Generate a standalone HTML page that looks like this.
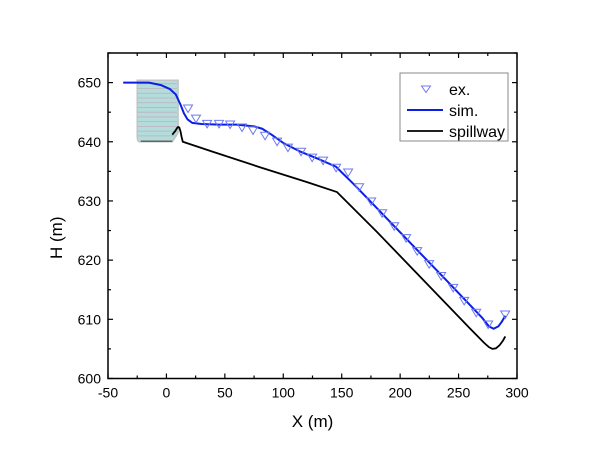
<!DOCTYPE html>
<html><head><meta charset="utf-8"><style>
html,body{margin:0;padding:0;background:#fff;}
svg{display:block;font-family:"Liberation Sans",Arial,sans-serif;}
</style></head><body>
<svg id="chart" width="600" height="454"></svg>
<script>
const xTicks=[-50,0,50,100,150,200,250,300];
const yTicks=[600,610,620,630,640,650];
const expX=[18.5,25.3,34.8,45,54.5,64.7,74.1,84.4,94.7,104,115.2,124.7,134.1,145.2,155.5,164.9,175.2,184.6,194.9,205.1,214.6,224.8,235.1,245.4,254.8,265.1,275.3,289.9];
const expY=[645.7,644,643.1,643.1,643,642.5,642,641.1,640.1,639.1,638.4,637.4,636.9,635.7,634.9,632.4,630,628,625.8,623.8,621.6,619.4,617.4,615.4,613.2,611.2,609.2,610.9];
const simX=[-37,-15,-5,3,8,12,15,18,22,30,45,60,75,82,90,100,115,130,145,160,200,240,270,276,280,284,287,290];
const simY=[650,650,649.6,648.9,648,646.3,644.8,643.8,643.2,643,642.9,642.9,642.6,642.2,641.2,639.8,638.3,637.1,635.8,632.9,624.7,616.5,610.3,608.8,608.4,608.8,609.6,610.6];
const spX=[5,7.5,9,10,11,12,13,14,40,80,120,146,180,220,260,272,276,279,282,285,288,290];
const spY=[641.2,641.8,642.3,642.5,642.4,641.8,640.8,640,638.3,635.7,633.2,631.5,624.8,616.6,608.4,606,605.3,605,605.1,605.6,606.4,607.1];
const X0=108,X1=517,Y0=378.5,Y1=53;
const xs=v=>X0+(v+50)/350*(X1-X0);
const ys=v=>Y0-(v-600)/55*(Y0-Y1);
const svg=document.getElementById('chart');
const NS='http://www.w3.org/2000/svg';
function mk(tag,attrs,parent){const e=document.createElementNS(NS,tag);for(const k in attrs)e.setAttribute(k,attrs[k]);(parent||svg).appendChild(e);return e;}
const gate=mk('g',{});


mk('path',{d:`M${xs(-25)},${ys(650.4)} H${xs(10)} V${ys(641.5)} L${xs(5)},${ys(640)} H${xs(-23)} Q${xs(-25)},${ys(640)} ${xs(-25)},${ys(641)} Z`,fill:'#b3dcdb',stroke:'#c4c4c4','stroke-width':1.5},gate);
for(let v=641;v<=650;v+=0.8){mk('line',{x1:xs(-25),x2:xs(9),y1:ys(v),y2:ys(v),stroke:'#c0b0bc','stroke-width':0.8},gate);}
mk('line',{x1:xs(-22),x2:xs(5),y1:ys(640.1),y2:ys(640.1),stroke:'#444','stroke-width':1.2},gate);
const frame=mk('rect',{x:X0,y:Y1,width:X1-X0,height:Y0-Y1,fill:'none',stroke:'#000','stroke-width':1.5});


for(let v=-50;v<=300;v+=25){const major=v%50===0;const L=major?5:3;const x=xs(v);
mk('line',{x1:x,x2:x,y1:Y0,y2:Y0-L,stroke:'#000','stroke-width':1.2});
mk('line',{x1:x,x2:x,y1:Y1,y2:Y1+L,stroke:'#000','stroke-width':1.2});}
xTicks.forEach(v=>{const t=mk('text',{x:xs(v),y:Y0+19,'text-anchor':'middle','font-size':14});t.textContent=v;

});
for(let v=600;v<=655;v+=5){const major=v%10===0;const L=major?5:3;const y=ys(v);
mk('line',{x1:X0,x2:X0+L,y1:y,y2:y,stroke:'#000','stroke-width':1.2});
mk('line',{x1:X1,x2:X1-L,y1:y,y2:y,stroke:'#000','stroke-width':1.2});}
yTicks.forEach(v=>{const t=mk('text',{x:X0-7,y:ys(v)+5,'text-anchor':'end','font-size':14});t.textContent=v;

});
const xt=mk('text',{x:(X0+X1)/2,y:427,'text-anchor':'middle','font-size':17});xt.textContent='X (m)';


const yt=mk('text',{x:62,y:(Y0+Y1)/2+22,'text-anchor':'middle','font-size':17,transform:`rotate(-90 62 ${(Y0+Y1)/2+22})`});yt.textContent='H (m)';


const sp=mk('polyline',{points:spX.map((v,i)=>xs(v)+','+ys(spY[i])).join(' '),fill:'none',stroke:'#000','stroke-width':1.8,'stroke-linejoin':'round'});


const sim=mk('polyline',{points:simX.map((v,i)=>xs(v)+','+ys(simY[i])).join(' '),fill:'none',stroke:'#0a1ee6','stroke-width':2,'stroke-linejoin':'round'});


expX.forEach((v,i)=>{const x=xs(v),y=ys(expY[i]);
const p=mk('path',{d:`M${x-4.5},${y-3} L${x+4.5},${y-3} L${x},${y+4.5} Z`,fill:'none',stroke:'#6d79f0','stroke-width':1});

});
const lg=mk('g',{});


mk('rect',{x:400,y:73,width:108,height:68,fill:'#fff',stroke:'#888','stroke-width':1},lg);
mk('path',{d:'M421.5,86 L430.5,86 L426,92.5 Z',fill:'none',stroke:'#6d79f0','stroke-width':1},lg);
mk('line',{x1:407,x2:443,y1:110,y2:110,stroke:'#0a1ee6','stroke-width':2},lg);
mk('line',{x1:407,x2:443,y1:131,y2:131,stroke:'#000','stroke-width':1.8},lg);
[['ex.',95],['sim.',116],['spillway',137]].forEach(([s,y])=>{const t=mk('text',{x:449,y:y,'font-size':16},lg);t.textContent=s;

});
</script>
</body></html>
